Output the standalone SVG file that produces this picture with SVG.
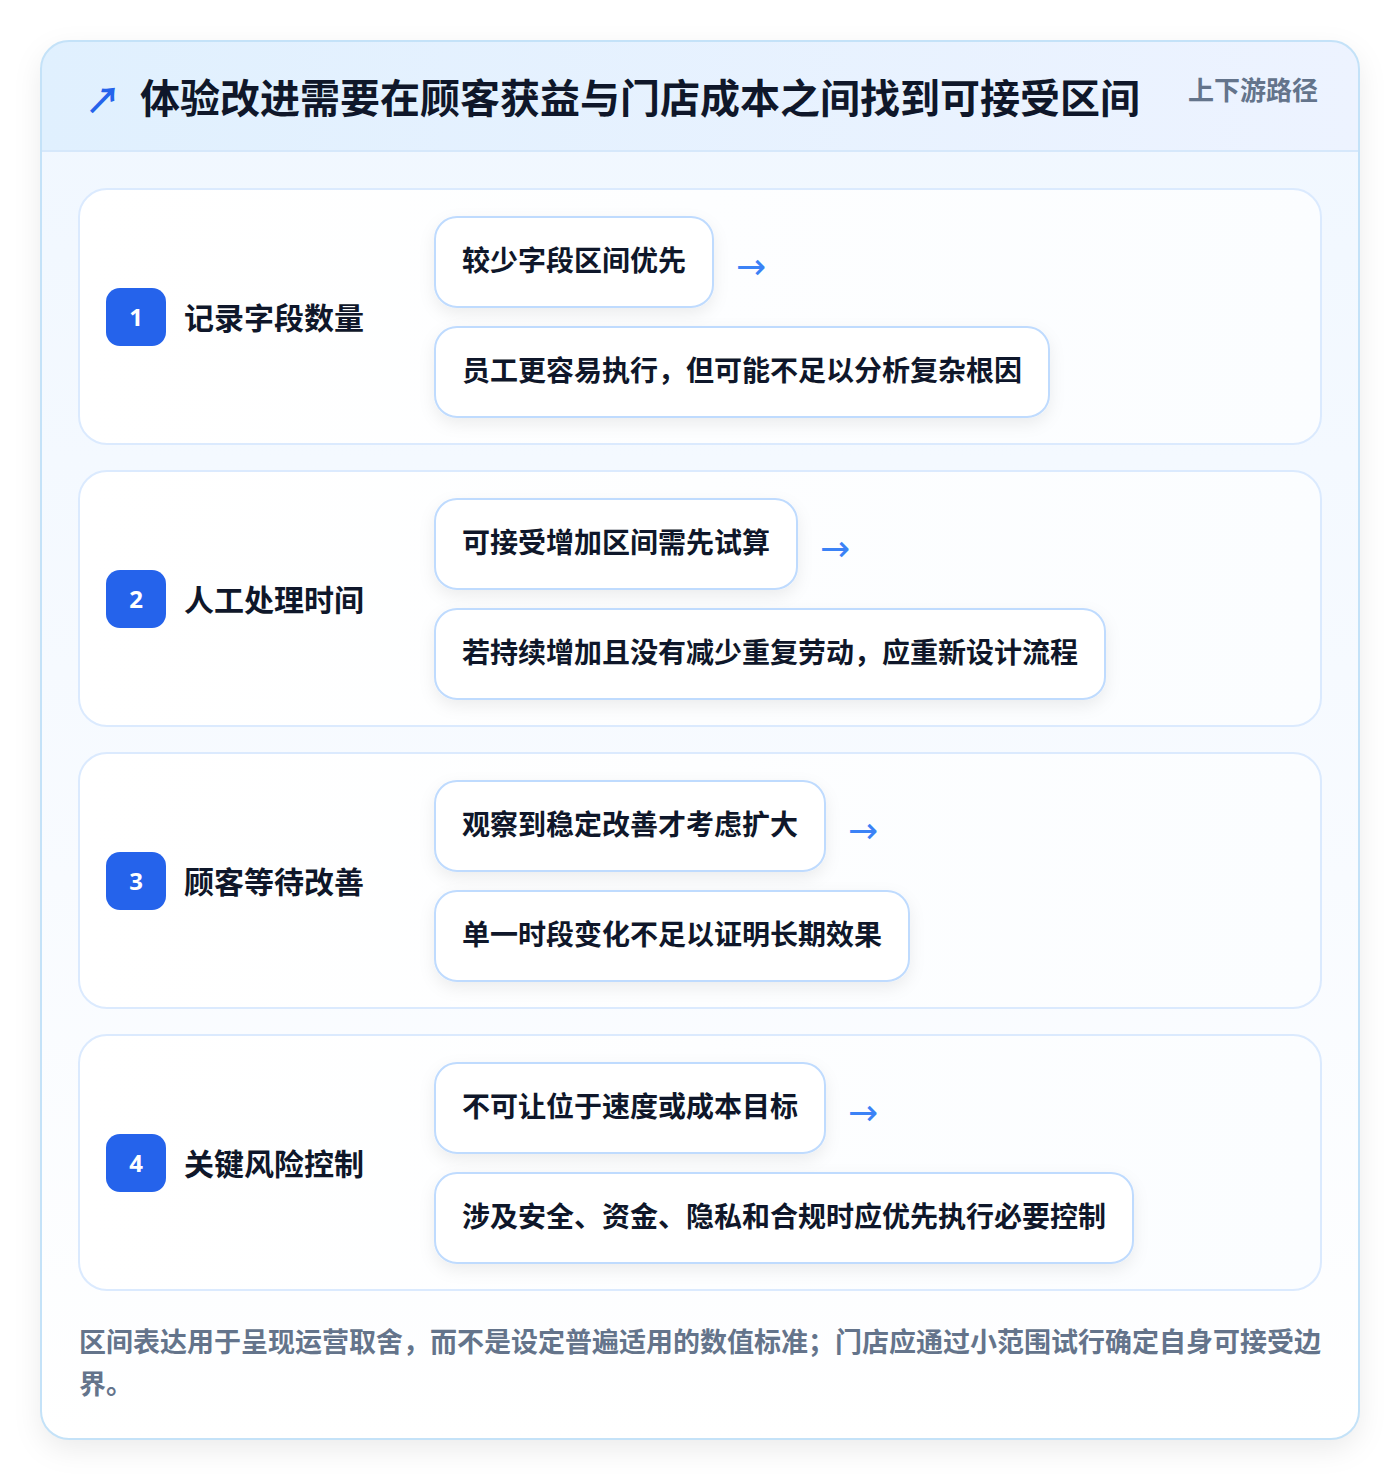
<svg xmlns="http://www.w3.org/2000/svg" width="1400" height="1482" viewBox="0 0 1400 1482">
<defs>
<linearGradient id="hdr" x1="0" y1="0" x2="1" y2="0"><stop offset="0" stop-color="#e0f0fe"/><stop offset="1" stop-color="#edf3ff"/></linearGradient>
<linearGradient id="body" x1="0" y1="0" x2="0" y2="1"><stop offset="0" stop-color="#f0f7ff"/><stop offset="0.6" stop-color="#f8fbff"/><stop offset="1" stop-color="#ffffff"/></linearGradient>
<linearGradient id="card" x1="0" y1="0" x2="1" y2="0"><stop offset="0" stop-color="#ffffff"/><stop offset="1" stop-color="#fbfdff"/></linearGradient>
<filter id="sh-outer" x="-10%" y="-10%" width="120%" height="120%"><feDropShadow dx="0" dy="10" stdDeviation="14" flood-color="#0f172a" flood-opacity="0.08"/></filter>
<filter id="sh-box" x="-20%" y="-30%" width="140%" height="170%"><feDropShadow dx="0" dy="6" stdDeviation="8" flood-color="#0f172a" flood-opacity="0.07"/></filter>
<clipPath id="outerclip"><rect x="41" y="41" width="1318" height="1398" rx="28"/></clipPath>
</defs>
<style>
.cjk{font-family:"Noto Sans CJK SC","Noto Sans",sans-serif;font-weight:700}
.title{font-size:40px;fill:#0f172a}
.tag{font-size:26px;fill:#64748b}
.card{fill:url(#card);stroke:#dbeafe;stroke-width:2}
.badge{fill:#2563eb}
.num{font-family:"Noto Sans","DejaVu Sans",sans-serif;font-weight:700;font-size:24px;fill:#ffffff}
.label{font-size:30px;fill:#0f172a}
.box{fill:#ffffff;stroke:#bfdbfe;stroke-width:2;filter:url(#sh-box)}
.boxtxt{font-size:28px;fill:#0f172a}
.arrow{font-family:"DejaVu Sans",sans-serif;font-size:36px;fill:#3b82f6}
.foot{font-size:27px;fill:#64748b}
</style>
<rect width="1400" height="1482" fill="#ffffff"/>
<g id="frame">
<rect x="41" y="41" width="1318" height="1398" rx="28" fill="#ffffff" filter="url(#sh-outer)"/>
<g clip-path="url(#outerclip)">
<rect x="41" y="41" width="1318" height="1398" fill="url(#body)"/>
<rect x="41" y="41" width="1318" height="110" fill="url(#hdr)"/>
<line x1="41" y1="151" x2="1359" y2="151" stroke="#d6e8fb" stroke-width="2"/>
</g>
<rect x="41" y="41" width="1318" height="1398" rx="28" fill="none" stroke="#c4e2f8" stroke-width="2"/>
</g>
<g id="header">
<text x="85" y="114" class="cjk" font-size="36" fill="#2563eb">↗</text>
<text x="140" y="113" class="cjk title">体验改进需要在顾客获益与门店成本之间找到可接受区间</text>
<text x="1188" y="100" class="cjk tag">上下游路径</text>
</g>
<g id="section-1">
<rect x="79" y="189" width="1242" height="255" rx="28" class="card"/>
<rect x="106" y="288" width="60" height="58" rx="14" class="badge"/>
<text x="136" y="326" text-anchor="middle" class="num">1</text>
<text x="184" y="329" class="cjk label">记录字段数量</text>
<g id="s1-top"><rect x="435" y="217" width="278" height="90" rx="22" class="box"/><text x="462" y="271" class="cjk boxtxt">较少字段区间优先</text></g>
<g id="s1-bottom"><rect x="435" y="327" width="614" height="90" rx="22" class="box"/><text x="462" y="381" class="cjk boxtxt">员工更容易执行，但可能不足以分析复杂根因</text></g>
</g>
<g id="section-2">
<rect x="79" y="471" width="1242" height="255" rx="28" class="card"/>
<rect x="106" y="570" width="60" height="58" rx="14" class="badge"/>
<text x="136" y="608" text-anchor="middle" class="num">2</text>
<text x="184" y="611" class="cjk label">人工处理时间</text>
<g id="s2-top"><rect x="435" y="499" width="362" height="90" rx="22" class="box"/><text x="462" y="553" class="cjk boxtxt">可接受增加区间需先试算</text></g>
<g id="s2-bottom"><rect x="435" y="609" width="670" height="90" rx="22" class="box"/><text x="462" y="663" class="cjk boxtxt">若持续增加且没有减少重复劳动，应重新设计流程</text></g>
</g>
<g id="section-3">
<rect x="79" y="753" width="1242" height="255" rx="28" class="card"/>
<rect x="106" y="852" width="60" height="58" rx="14" class="badge"/>
<text x="136" y="890" text-anchor="middle" class="num">3</text>
<text x="184" y="893" class="cjk label">顾客等待改善</text>
<g id="s3-top"><rect x="435" y="781" width="390" height="90" rx="22" class="box"/><text x="462" y="835" class="cjk boxtxt">观察到稳定改善才考虑扩大</text></g>
<g id="s3-bottom"><rect x="435" y="891" width="474" height="90" rx="22" class="box"/><text x="462" y="945" class="cjk boxtxt">单一时段变化不足以证明长期效果</text></g>
</g>
<g id="section-4">
<rect x="79" y="1035" width="1242" height="255" rx="28" class="card"/>
<rect x="106" y="1134" width="60" height="58" rx="14" class="badge"/>
<text x="136" y="1172" text-anchor="middle" class="num">4</text>
<text x="184" y="1175" class="cjk label">关键风险控制</text>
<g id="s4-top"><rect x="435" y="1063" width="390" height="90" rx="22" class="box"/><text x="462" y="1117" class="cjk boxtxt">不可让位于速度或成本目标</text></g>
<g id="s4-bottom"><rect x="435" y="1173" width="698" height="90" rx="22" class="box"/><text x="462" y="1227" class="cjk boxtxt">涉及安全、资金、隐私和合规时应优先执行必要控制</text></g>
</g>
<g id="connectors">
<text x="736" y="279" class="arrow">→</text>
<text x="820" y="561" class="arrow">→</text>
<text x="848" y="843" class="arrow">→</text>
<text x="848" y="1125" class="arrow">→</text>
</g>
<g id="footer">
<text x="79" y="1352" class="cjk foot">区间表达用于呈现运营取舍，而不是设定普遍适用的数值标准；门店应通过小范围试行确定自身可接受边</text>
<text x="79" y="1394" class="cjk foot">界。</text>
</g>
</svg>
